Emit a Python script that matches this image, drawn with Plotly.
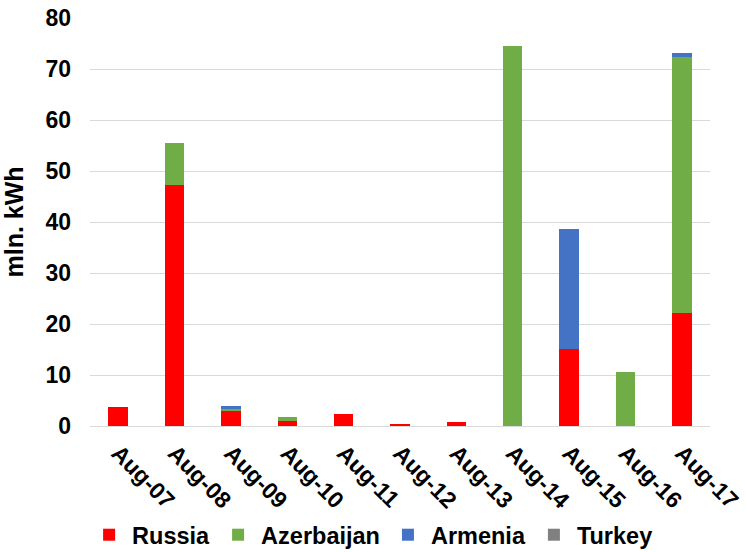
import plotly.graph_objects as go

# Daily electricity imports by source country, mln. kWh
days = ["Aug-07", "Aug-08", "Aug-09", "Aug-10", "Aug-11", "Aug-12",
        "Aug-13", "Aug-14", "Aug-15", "Aug-16", "Aug-17"]
russia = [3.7, 47.3, 3.0, 1.0, 2.4, 0.4, 0.8, 0.0, 15.1, 0.0, 22.2]
azerbaijan = [0.0, 8.2, 0.4, 0.7, 0.0, 0.0, 0.0, 74.5, 0.0, 10.6, 50.2]
armenia = [0.0, 0.0, 0.5, 0.0, 0.0, 0.0, 0.0, 0.0, 23.5, 0.0, 0.7]
turkey = [0.0] * len(days)

series = [
    ("Russia", russia, "#FF0000"),
    ("Azerbaijan", azerbaijan, "#70AD47"),
    ("Armenia", armenia, "#4472C4"),
    ("Turkey", turkey, "#808080"),
]

FONT = "Liberation Sans, Arial, sans-serif"


def bold(size):
    return dict(family=FONT, size=size, color="black", weight="bold")


fig = go.Figure()
for name, vals, color in series:
    fig.add_trace(go.Bar(
        name=name, x=days, y=vals,
        marker=dict(color=color, line=dict(width=0)),
    ))

fig.update_layout(
    barmode="stack",
    bargap=0.654,
    width=746, height=552,
    margin=dict(l=90, r=36, t=18, b=126, autoexpand=False),
    paper_bgcolor="white",
    plot_bgcolor="white",
    font=bold(23),
    legend=dict(
        orientation="h",
        x=0.455, xanchor="center",
        y=-0.267, yanchor="middle",
        font=bold(23.5),
        itemwidth=36,
        traceorder="normal",
    ),
    xaxis=dict(
        automargin=False,
        tickangle=45,
        showline=False,
        showgrid=False,
        ticks="",
        ticklabelstandoff=8,
        tickfont=bold(23),
    ),
    yaxis=dict(
        automargin=False,
        range=[0, 80],
        dtick=10,
        showgrid=True,
        gridcolor="#D9D9D9",
        gridwidth=1,
        zeroline=True,
        zerolinecolor="#D9D9D9",
        zerolinewidth=1,
        showline=False,
        ticks="",
        ticklabelstandoff=18,
        tickfont=bold(23),
        title=dict(text="mln. kWh", standoff=14, font=bold(25)),
    ),
)

fig.write_html("out.html")
